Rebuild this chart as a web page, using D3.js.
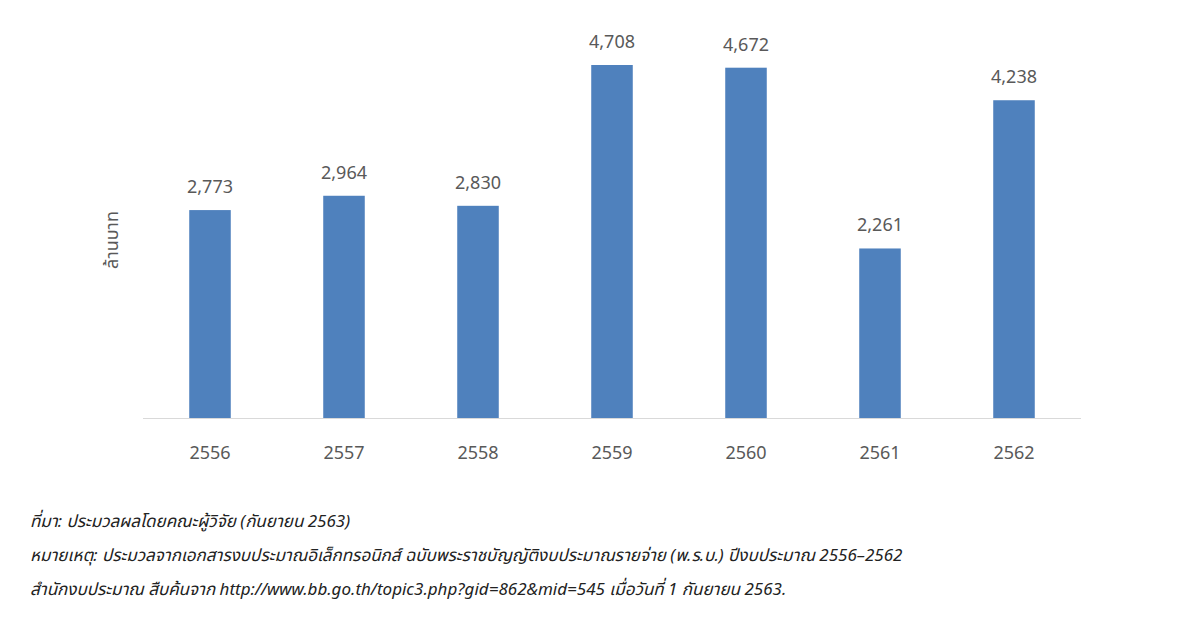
<!DOCTYPE html>
<html><head><meta charset="utf-8">
<script src="https://cdn.jsdelivr.net/npm/d3@7"></script>
<style>body{margin:0;background:#fff}text{font-family:"Noto Sans","Noto Sans Thai",sans-serif}</style>
</head><body><svg id="c" width="1200" height="618"></svg>
<script>
const categories=["2556","2557","2558","2559","2560","2561","2562"];
const values=[2773,2964,2830,4708,4672,2261,4238];
const yLabel="ล้านบาท";
const notes=["ที่มา: ประมวลผลโดยคณะผู้วิจัย (กันยายน 2563)",
"หมายเหตุ: ประมวลจากเอกสารงบประมาณอิเล็กทรอนิกส์ ฉบับพระราชบัญญัติงบประมาณรายจ่าย (พ.ร.บ.) ปีงบประมาณ 2556–2562",
"สำนักงบประมาณ สืบค้นจาก http://www.bb.go.th/topic3.php?gid=862&mid=545 เมื่อวันที่ 1 กันยายน 2563."];
const svg=d3.select("#c");
const x=d3.scaleBand().domain(categories).range([143,1081]).paddingInner(0.69).paddingOuter(0.345);
const y=d3.scaleLinear().domain([0,4708]).range([418,65]);
svg.selectAll("rect").data(values).join("rect")
 .attr("x",(d,i)=>x(categories[i])).attr("width",x.bandwidth())
 .attr("y",d=>y(d)).attr("height",d=>418-y(d)).attr("fill","#4F81BD");
svg.append("line").attr("x1",143).attr("x2",1081).attr("y1",418.5).attr("y2",418.5).attr("stroke","#d9d9d9");
svg.selectAll(".v").data(values).join("text")
 .attr("x",(d,i)=>x(categories[i])+x.bandwidth()/2).attr("y",d=>y(d)-17)
 .attr("text-anchor","middle").attr("font-size",18).attr("fill","#595959")
 .text(d3.format(","));
const ax=svg.append("g").attr("transform","translate(0,418)").call(d3.axisBottom(x).tickSize(0).tickPadding(28));
ax.select(".domain").remove();
ax.selectAll("text").attr("font-size",18).attr("fill","#595959").style("font-family","'Noto Sans',sans-serif");
svg.append("text").attr("transform","translate(118,240) rotate(-90)").attr("text-anchor","middle")
 .attr("font-size",18).attr("fill","#595959").text(yLabel);
svg.selectAll(".n").data(notes).join("text").attr("x",30).attr("y",(d,i)=>527+i*34)
 .attr("font-size",17).attr("font-style","italic").attr("fill","#222").text(d=>d);
</script></body></html>
